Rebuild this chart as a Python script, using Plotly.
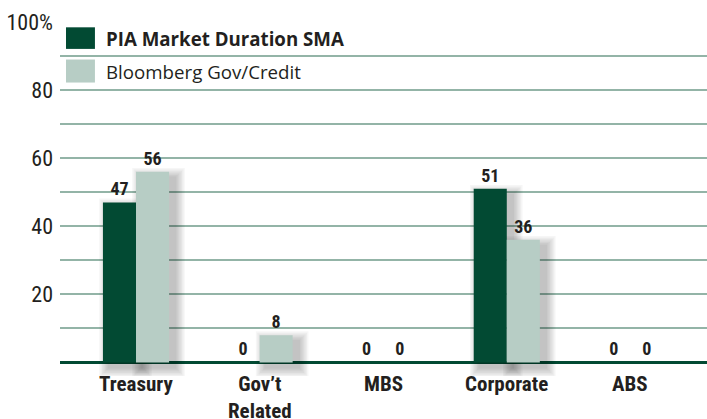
import plotly.graph_objects as go

categories = ["Treasury", "Gov’t<br>Related", "MBS", "Corporate", "ABS"]
pia_values = [47, 0, 0, 51, 0]
bbg_values = [56, 8, 0, 36, 0]
series_names = ["PIA Market Duration SMA", "Bloomberg Gov/Credit"]
y_tickvals = [0, 10, 20, 30, 40, 50, 60, 70, 80, 90, 100]
y_ticktext = ["", "", "20", "", "40", "", "60", "", "80", "", "100%"]

DARK = "#024a33"
LIGHT = "#b7cdc5"
GRID = "#93b4a7"
TEXT = "#231f20"
FONT = "Liberation Sans Narrow, Roboto Condensed, Liberation Sans, sans-serif"

x_idx = list(range(len(categories)))
BARGAP = 0.465
bar_w = (1 - BARGAP) / 2

fig = go.Figure()
for vals, name, col in [(pia_values, series_names[0], DARK), (bbg_values, series_names[1], LIGHT)]:
    fig.add_trace(go.Bar(
        x=x_idx, y=vals, name=name, marker_color=col, marker_line_width=0,
        text=[str(v) for v in vals], textposition="outside",
        textfont=dict(family=FONT, size=18, color=TEXT, weight="bold"), cliponaxis=False,
    ))

# soft drop shadows derived from bar positions
px_x = 1 / 123.5
px_y = 1 / 3.4
for s, vals in enumerate([pia_values, bbg_values]):
    for i, v in enumerate(vals):
        if v <= 0:
            continue
        left = i - bar_w + s * bar_w
        right = left + bar_w
        for k in range(1, 8):
            g = k * 1.4
            fig.add_shape(type="rect", xref="x", yref="y", layer="between",
                          x0=left + (6 - g) * px_x, x1=right + (6 + g) * px_x,
                          y0=-(5 + g) * px_y, y1=v - (6 - g) * px_y,
                          fillcolor="rgba(0,0,0,0.035)", line_width=0)

# category labels
for i, c in enumerate(categories):
    fig.add_annotation(xref="x", yref="paper", x=i, y=0.0, yshift=6, text=c,
                       showarrow=False, xanchor="center", yanchor="top",
                       font=dict(family=FONT, size=21, color=TEXT, weight="bold"))

# manual legend
legend_items = [(series_names[0], DARK, "bold", 0.985, 0.924), (series_names[1], LIGHT, "normal", 0.894, 0.829)]
for name, col, w, y1, y0 in legend_items:
    fig.add_shape(type="rect", xref="paper", yref="paper", x0=0.0093, x1=0.054, y0=y0, y1=y1,
                  fillcolor=col, line_width=0, layer="above")
    fig.add_annotation(xref="paper", yref="paper", x=0.068, y=(y0 + y1) / 2, text=name,
                       showarrow=False, xanchor="left", yanchor="middle",
                       font=dict(family="Open Sans, Liberation Sans, sans-serif", size=18.7, color=TEXT, weight=w))

fig.update_layout(
    width=707, height=419,
    margin=dict(l=60, r=0, t=22, b=43, autoexpand=False),
    plot_bgcolor="white", paper_bgcolor="white",
    barmode="group", bargap=BARGAP, bargroupgap=0,
    showlegend=False,
    xaxis=dict(
        range=[-0.615, 4.62], showgrid=False, zeroline=False, showline=False,
        showticklabels=False, ticks="", automargin=False,
    ),
    yaxis=dict(
        range=[-4, 100], tickmode="array", tickvals=y_tickvals, ticktext=y_ticktext,
        showgrid=True, gridcolor=GRID, gridwidth=2,
        zeroline=True, zerolinecolor=DARK, zerolinewidth=3,
        ticks="", ticklabelstandoff=6, automargin=False,
        tickfont=dict(family=FONT, size=22, color=TEXT),
    ),
)

fig.write_html("out.html")
